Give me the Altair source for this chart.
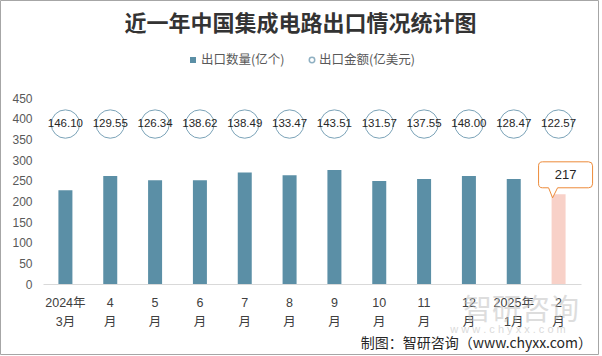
import altair as alt
import pandas as pd

# ---------------- data ----------------
months = ["2024年\n3月", "4\n月", "5\n月", "6\n月", "7\n月", "8\n月", "9\n月",
          "10\n月", "11\n月", "12\n月", "2025年\n1月", "2\n月"]
qty = [227, 261, 251, 251, 270, 263, 276, 249, 254, 261, 254, 217]          # 出口数量(亿个)
amount = [146.10, 129.55, 126.34, 138.62, 138.49, 133.47, 143.51,
          131.57, 137.55, 148.00, 128.47, 122.57]                          # 出口金额(亿美元)
kinds = ["normal"] * 11 + ["latest"]
y_ticks = [0, 50, 100, 150, 200, 250, 300, 350, 400, 450]
circle_level = 387  # constant height of the amount bubbles on the left axis

TEAL = "#5B8FA6"
PINK = "#F8D1C8"
ORANGE = "#ED8B3A"
RING = "#7BA3B8"
FONT = "Liberation Sans, Noto Sans CJK SC"
CJK = "Noto Sans CJK SC"

df = pd.DataFrame({
    "month": months,
    "qty": qty,
    "amount": amount,
    "amount_label": [f"{v:.2f}" for v in amount],
    "kind": kinds,
    "level": [circle_level] * len(months),
})

# layout (plot area)
W, H = 538, 186
PL, PT, PR, PB = 43, 98, 21, 72

x_axis = alt.Axis(title=None, labelAngle=0, ticks=False, domainColor="#D9D9D9",
                  labelColor="#404040", labelFontSize=12.5, labelFont=FONT,
                  labelPadding=12, labelLineHeight=19, labelOverlap=False,
                  labelExpr="split(datum.label, '\\n')")
x_scale = alt.Scale(paddingInner=0, paddingOuter=0)
y_axis = alt.Axis(title=None, values=y_ticks, tickCount=10, grid=False, domain=False,
                  ticks=False, labelColor="#595959", labelFontSize=12, labelFont=FONT,
                  labelPadding=11, labelOverlap=False)
y_scale = alt.Scale(domain=[0, 450], nice=False)


def X():
    return alt.X("month:N", sort=months, scale=x_scale, axis=x_axis)


def Y(field):
    return alt.Y(field, scale=y_scale, axis=y_axis)


base = alt.Chart(df)

bars = base.mark_bar(size=14).encode(
    x=X(),
    y=Y("qty:Q"),
    color=alt.Color("kind:N", scale=alt.Scale(domain=["normal", "latest"], range=[TEAL, PINK]),
                    legend=None),
)

rings = base.mark_point(shape="circle", size=804, filled=False, stroke=RING,
                        strokeWidth=1, opacity=1).encode(x=X(), y=Y("level:Q"))

ring_text = base.mark_text(fontSize=11.5, color="#262626", font=FONT).encode(
    x=X(), y=Y("level:Q"), text="amount_label:N",
)

callout_path = ("M -0.533 -1.083 L 1.0 -1.083 Q 1.133 -1.083 1.133 -0.95 L 1.133 -0.35 "
                "Q 1.133 -0.217 1.0 -0.217 L -0.033 -0.217 L -0.2 0.117 L -0.333 -0.217 "
                "L -0.533 -0.217 Q -0.667 -0.217 -0.667 -0.35 L -0.667 -0.95 "
                "Q -0.667 -1.083 -0.533 -1.083 Z")

callout = base.transform_filter(alt.datum.kind == "latest").mark_point(
    shape=callout_path, size=3600, filled=True, fill="white", stroke=ORANGE,
    strokeWidth=1, opacity=1,
).encode(x=X(), y=Y("qty:Q"))

callout_text = base.transform_filter(alt.datum.kind == "latest").mark_text(
    fontSize=13, color="#262626", font=FONT, dx=7, dy=-19,
).encode(x=X(), y=Y("qty:Q"), text="qty:Q")

one = alt.Data(values=[{}])


def label(text, x, y, **kw):
    return alt.Chart(one).mark_text(text=text, **kw).encode(x=alt.value(x), y=alt.value(y))


def sym(x, y, **kw):
    return alt.Chart(one).mark_point(**kw).encode(x=alt.value(x), y=alt.value(y))


title = label("近一年中国集成电路出口情况统计图", 257.5, -74.5, fontSize=22,
              fontWeight="bold", font=CJK, color="#333333", align="center", baseline="middle")

leg1 = sym(150, -38, shape="square", size=36, filled=True, color=TEAL, opacity=1)
leg1t = label("出口数量(亿个)", 158, -38, fontSize=12.5, font=CJK, color="#595959",
              align="left", baseline="middle")
leg2 = sym(269, -38, shape="circle", size=30, filled=False, stroke="#8FB0C2",
           strokeWidth=1.5, opacity=1)
leg2t = label("出口金额(亿美元)", 276, -38, fontSize=12.5, font=CJK, color="#595959",
              align="left", baseline="middle")

wm1 = label("智研咨询", 478, 213, fontSize=29, font=CJK, color="#BDBDBD", opacity=0.5,
            align="center", baseline="middle")
wm2 = label("w w w . c h y x x . c o m", 465, 232, fontSize=11, font=FONT, color="#BDBDBD",
            opacity=0.55, align="center", baseline="middle")

source = label("制图：智研咨询（www.chyxx.com）", 549, 246, fontSize=14, font=CJK,
               color="#262626", align="right", baseline="middle")

frame = alt.Chart(one).mark_rect(fill=None, stroke="#A6A6A6", strokeWidth=1).encode(
    x=alt.value(-42.5), x2=alt.value(555.5), y=alt.value(-97.5), y2=alt.value(256.5)
)

chart = alt.layer(
    frame, wm1, wm2, bars, rings, ring_text, callout, callout_text,
    title, leg1, leg1t, leg2, leg2t, source,
).properties(
    width=W, height=H,
    autosize=alt.AutoSizeParams(type="none"),
    padding={"left": PL, "top": PT, "right": PR, "bottom": PB},
    background="white",
).configure_view(stroke=None)

chart.save("out.html", embed_options={"renderer": "svg", "actions": False})
